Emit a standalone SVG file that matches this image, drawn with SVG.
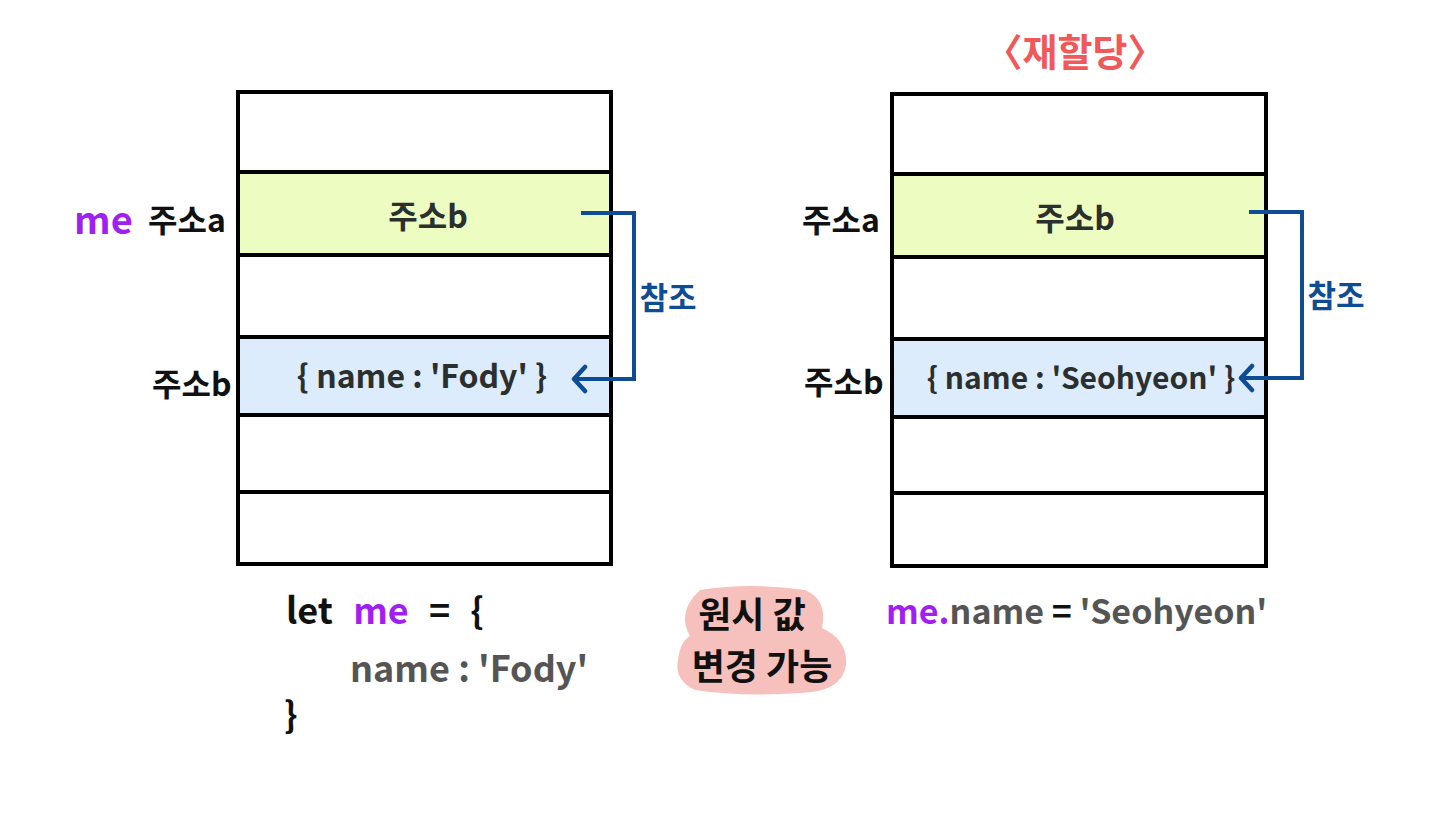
<svg xmlns="http://www.w3.org/2000/svg" width="1440" height="825" viewBox="0 0 1440 825">
<style>
.cell{stroke:#000;stroke-width:4}
.w{fill:#fff}.y{fill:#edfdc2}.b{fill:#dcecfc}
.t{font-family:"Noto Sans CJK KR","Noto Sans",sans-serif;font-weight:700}
.lbl{font-size:32px;fill:#111}
.ct{font-size:32px;fill:#2b2f2e}
.ref{font-size:31px;fill:#0e4d93}
.me{fill:#a11ff2}
.code{font-size:36px;fill:#111}
.gray{fill:#555}
.conn{fill:none;stroke:#0e4d93;stroke-width:4;stroke-linejoin:miter}
</style>
<defs>
<marker id="ah" viewBox="0 0 18 30" refX="15" refY="15" markerWidth="18" markerHeight="30" markerUnits="userSpaceOnUse" orient="auto">
<path d="M4 3 L15 15 L4 27" fill="none" stroke="#0e4d93" stroke-width="4.5" stroke-linecap="round" stroke-linejoin="round"/>
</marker>
</defs>
<rect width="1440" height="825" fill="#fff"/>

<g id="title"><text class="t" x="1075" y="66" font-size="38" fill="#f0585a" text-anchor="middle">〈재할당〉</text></g>

<g id="memLeft">
<rect class="cell w" x="238" y="92" width="373" height="80"/>
<rect class="cell y" x="238" y="172" width="373" height="83"/>
<rect class="cell w" x="238" y="255" width="373" height="82"/>
<rect class="cell b" x="238" y="337" width="373" height="78"/>
<rect class="cell w" x="238" y="415" width="373" height="77"/>
<rect class="cell w" x="238" y="492" width="373" height="72"/>
<text class="t ct" x="428" y="228" text-anchor="middle">주소b</text>
<text class="t ct" x="422" y="388" text-anchor="middle">{ name : 'Fody' }</text>
</g>

<g id="labelsLeft">
<text class="t me" x="74" y="234" font-size="38">me</text>
<text class="t lbl" x="148" y="232">주소a</text>
<text class="t lbl" x="152" y="396">주소b</text>
</g>

<g id="memRight">
<rect class="cell w" x="892" y="94" width="374" height="80"/>
<rect class="cell y" x="892" y="174" width="374" height="83"/>
<rect class="cell w" x="892" y="257" width="374" height="82"/>
<rect class="cell b" x="892" y="339" width="374" height="78"/>
<rect class="cell w" x="892" y="417" width="374" height="76"/>
<rect class="cell w" x="892" y="493" width="374" height="73"/>
<text class="t ct" x="1075" y="230" text-anchor="middle">주소b</text>
<text class="t" x="1081" y="389" font-size="30" fill="#2b2f2e" text-anchor="middle">{ name : 'Seohyeon' }</text>
</g>

<g id="labelsRight">
<text class="t lbl" x="802" y="232">주소a</text>
<text class="t lbl" x="804" y="394">주소b</text>
</g>

<g id="connectors">
<path class="conn" d="M581 213 H634 V379 H574" marker-end="url(#ah)"/>
<path class="conn" d="M1249 212 H1302 V378 H1241" marker-end="url(#ah)"/>
<text class="t ref" x="668" y="309" text-anchor="middle">참조</text>
<text class="t ref" x="1336" y="307" text-anchor="middle">참조</text>
</g>

<g id="codeLeft">
<text class="t code" x="286" y="624" word-spacing="12"><tspan>let </tspan><tspan class="me">me</tspan><tspan> = {</tspan></text>
<text class="t code gray" x="350" y="682">name : 'Fody'</text>
<text class="t code" x="284" y="728">}</text>
</g>

<g id="note">
<path d="M700 590 Q750 582 805 590 Q828 600 822 628 Q848 640 846 665 Q842 692 800 693 Q740 697 695 690 Q674 680 678 660 Q680 642 690 636 Q676 612 700 590 Z" fill="#f6c1bd"/>
<text class="t" x="752" y="628" font-size="36" fill="#111" text-anchor="middle">원시 값</text>
<text class="t" x="762" y="680" font-size="36" fill="#111" text-anchor="middle">변경 가능</text>
</g>

<g id="codeRight">
<text class="t" x="886" y="624" font-size="34" fill="#111"><tspan class="me">me.</tspan><tspan class="gray">name</tspan><tspan> = </tspan><tspan class="gray">'Seohyeon'</tspan></text>
</g>
</svg>
